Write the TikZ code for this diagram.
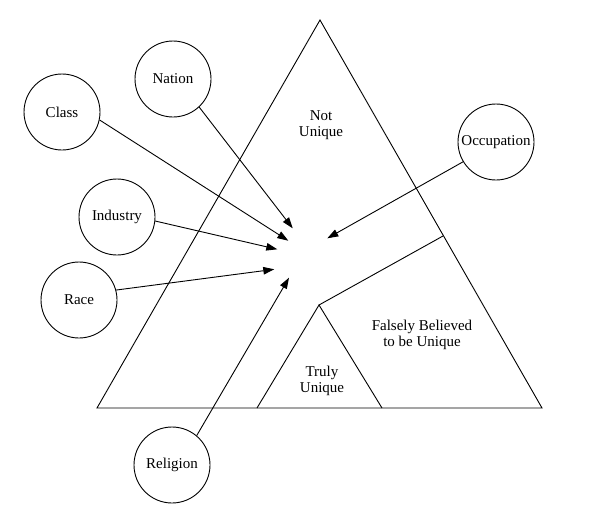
\documentclass[tikz,border=0pt]{standalone}
\usepackage{fontspec}
\setmainfont{Liberation Serif}
\usetikzlibrary{arrows.meta}

\begin{document}
\begin{tikzpicture}[x=1pt, y=-1pt, line width=0.9pt,
  every node/.style={font=\fontsize{15}{16.5}\selectfont, align=center},
  factor/.style={draw, circle, minimum size=76pt, inner sep=0pt},
  pointer/.style={-{Triangle[length=11pt,width=7.5pt]}}]

\useasboundingbox (0,0) rectangle (589,517);

% big triangle with the truly unique part and the dividing line
\coordinate (top) at (320,20);
\coordinate (bottomleft) at (97,408);
\coordinate (bottomright) at (542,408);
\coordinate (innertop) at (319,305);
\coordinate (innerleft) at (257,408);
\coordinate (innerright) at (382,408);
\coordinate (split) at (443,236);

\draw (top) -- (bottomright) -- (bottomleft) -- cycle;
\draw (innerleft) -- (innertop) -- (innerright);
\draw (innertop) -- (split);

\path
(321,125) node (notunique) {Not\\Unique}
(422,335) node (falsely) {Falsely Believed\\to be Unique}
(322,381) node (truly) {Truly\\Unique};

% circles round the triangle
\path
(62,112) node [factor] (class) {Class}
(173,79) node [factor] (nation) {Nation}
(117,217) node [factor] (industry) {Industry}
(79,300) node [factor] (race) {Race}
(172,465) node [factor] (religion) {Religion}
(496,142) node [factor] (occupation) {Occupation};

% arrow ends
\coordinate (nationtip) at (292.7,228.3);
\coordinate (classtip) at (288.3,240.7);
\coordinate (industrytip) at (277.3,249.3);
\coordinate (racetip) at (274.3,269.3);
\coordinate (religiontip) at (289,277.7);
\coordinate (occupationtip) at (327.3,238.3);

\draw[pointer] (class.-12) -- (classtip);
\draw[pointer] (nation.-47) -- (nationtip);
\draw[pointer] (industry.-6) -- (industrytip);
\draw[pointer] (race.15) -- (racetip);
\draw[pointer] (religion.50) -- (religiontip);
\draw[pointer] (occupation.211) -- (occupationtip);

\end{tikzpicture}
\end{document}
